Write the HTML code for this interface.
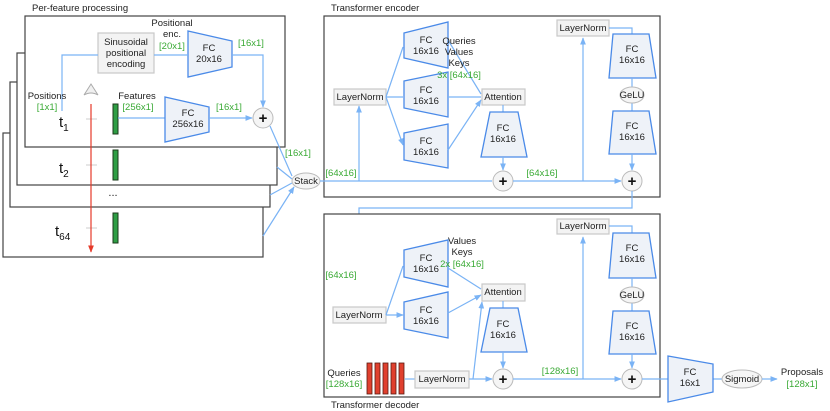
<!DOCTYPE html>
<html><head><style>
body{margin:0;background:#fff;}
svg{display:block;font-family:"Liberation Sans",sans-serif;}
.t{font-size:9.5px;fill:#222;text-anchor:middle;}
.g{font-size:9.5px;fill:#3aaa35;text-anchor:middle;}
.p{font-size:15px;fill:#111;text-anchor:middle;font-weight:bold;}
.l{stroke:#7ab3f5;stroke-width:1.2;fill:none;}
.tr{fill:#eef2f8;stroke:#4a8ae8;stroke-width:1.3;}
.gb{fill:#f3f3f3;stroke:#c8c8c8;stroke-width:1.2;}
.c{fill:#f5f5f5;stroke:#bbb;stroke-width:1;}
.bx{fill:#fff;stroke:#444;stroke-width:1.2;}
</style></head><body>
<svg width="830" height="411" viewBox="0 0 830 411">
<defs><marker id="a" viewBox="0 0 10 10" refX="9" refY="5" markerWidth="6" markerHeight="6" orient="auto"><path d="M0,1L10,5L0,9z" fill="#7ab3f5"/></marker>
<marker id="r" viewBox="0 0 10 10" refX="9" refY="5" markerWidth="6" markerHeight="6" orient="auto"><path d="M0,1L10,5L0,9z" fill="#e53a2a"/></marker></defs>

<!-- left stack -->
<text x="32" y="11" class="t" style="text-anchor:start">Per-feature processing</text>
<rect x="3" y="133" width="260" height="124" class="bx"/>
<rect x="10" y="82" width="260" height="125" class="bx"/>
<rect x="17" y="53" width="260" height="132" class="bx"/>
<rect x="25" y="16" width="260" height="131" class="bx"/>

<rect x="98" y="33" width="56" height="40" class="gb"/>
<text x="126" y="45" class="t">Sinusoidal</text><text x="126" y="56" class="t">positional</text><text x="126" y="67" class="t">encoding</text>
<text x="172" y="26" class="t">Positional</text><text x="172" y="37" class="t">enc.</text><text x="172" y="49" class="g">[20x1]</text>
<polygon points="188,31 232,41 232,67 188,77" class="tr"/>
<text x="209" y="51" class="t">FC</text><text x="209" y="62" class="t">20x16</text>
<text x="251" y="46" class="g">[16x1]</text>
<path d="M62,111V55H98 M154,55H188" class="l"/>
<path d="M232,55H263V107" class="l" marker-end="url(#a)"/>
<circle cx="263" cy="118" r="10" class="c"/><text x="263" y="123" class="p">+</text>
<text x="47" y="99" class="t">Positions</text><text x="47" y="110" class="g">[1x1]</text>
<text x="59" y="127" style="font-size:15px;fill:#111">t<tspan font-size="10" dy="4">1</tspan></text>
<text x="59" y="173" style="font-size:15px;fill:#111">t<tspan font-size="10" dy="4">2</tspan></text>
<text x="55" y="236" style="font-size:15px;fill:#111">t<tspan font-size="10" dy="4">64</tspan></text>
<text x="113" y="196" class="t" style="font-size:11px">...</text>
<path d="M84,95 L91,84 L98,95 Q91,91 84,95z" fill="#f0f0f0" stroke="#aaa"/>
<path d="M86,119H97 M86,165H97 M86,228H97" stroke="#ccc" stroke-width="1"/>
<path d="M91,104V252" stroke="#e53a2a" stroke-width="1.2" marker-end="url(#r)"/>
<rect x="113" y="104" width="5" height="30" fill="#2e9e44" stroke="#1a3a1a"/>
<rect x="113" y="150" width="5" height="30" fill="#2e9e44" stroke="#1a3a1a"/>
<rect x="113" y="213" width="5" height="30" fill="#2e9e44" stroke="#1a3a1a"/>
<text x="137" y="99" class="t">Features</text><text x="138" y="110" class="g">[256x1]</text>
<path d="M118,118H165" class="l"/>
<polygon points="165,97 209,107 209,132 165,142" class="tr"/>
<text x="188" y="116" class="t">FC</text><text x="188" y="127" class="t">256x16</text>
<text x="229" y="110" class="g">[16x1]</text>
<path d="M209,118H252" class="l" marker-end="url(#a)"/>
<text x="298" y="156" class="g">[16x1]</text>
<path d="M270,126L292,176 M277,167L292,179 M270,195L292,183 M263,236L294,187" class="l" marker-end="url(#a)"/>
<ellipse cx="306" cy="181" rx="14" ry="8" class="c"/><text x="306" y="184" class="t">Stack</text>

<!-- encoder -->
<text x="331" y="11" class="t" style="text-anchor:start">Transformer encoder</text>
<rect x="324" y="16" width="336" height="181" class="bx"/>
<rect x="334" y="89" width="52" height="16" class="gb"/><text x="360" y="100" class="t">LayerNorm</text>
<polygon points="404,33 448,22 448,68 404,58" class="tr"/><text x="426" y="43" class="t">FC</text><text x="426" y="54" class="t">16x16</text>
<polygon points="404,81 448,72 448,117 404,108" class="tr"/><text x="426" y="93" class="t">FC</text><text x="426" y="104" class="t">16x16</text>
<polygon points="404,133 448,124 448,168 404,160" class="tr"/><text x="426" y="144" class="t">FC</text><text x="426" y="155" class="t">16x16</text>
<path d="M386,97L403,47 M386,97H403 M386,97L403,145" class="l" marker-end="url(#a)"/>
<path d="M448,40L481,94 M448,97H481 M448,150L481,100" class="l" marker-end="url(#a)"/>
<text x="459" y="44" class="t">Queries</text><text x="459" y="55" class="t">Values</text><text x="459" y="66" class="t">Keys</text><text x="459" y="78" class="g">3x [64x16]</text>
<rect x="482" y="89" width="43" height="16" class="gb"/><text x="503" y="100" class="t">Attention</text>
<path d="M503,105V112" class="l"/>
<polygon points="490,112 518,112 527,157 481,157" class="tr"/><text x="503" y="131" class="t">FC</text><text x="503" y="142" class="t">16x16</text>
<path d="M503,157V170" class="l" marker-end="url(#a)"/>
<circle cx="503" cy="181" r="10" class="c"/><text x="503" y="186" class="p">+</text>
<path d="M320,181H492 M513,181H621" class="l" marker-end="url(#a)"/>
<path d="M359,181V106" class="l" marker-end="url(#a)"/>
<text x="341" y="176" class="g">[64x16]</text><text x="542" y="176" class="g">[64x16]</text>
<path d="M583,181V38" class="l" marker-end="url(#a)"/>
<rect x="557" y="20" width="52" height="16" class="gb"/><text x="583" y="31" class="t">LayerNorm</text>
<path d="M609,28H632V34" class="l"/>
<polygon points="613,34 649,34 656,78 609,78" class="tr"/><text x="632" y="52" class="t">FC</text><text x="632" y="63" class="t">16x16</text>
<path d="M632,78V111" class="l"/>
<ellipse cx="632" cy="95" rx="12" ry="8" class="c"/><text x="632" y="98" class="t">GeLU</text>
<polygon points="613,111 649,111 656,154 609,154" class="tr"/><text x="632" y="129" class="t">FC</text><text x="632" y="140" class="t">16x16</text>
<path d="M632,154V170" class="l" marker-end="url(#a)"/>
<circle cx="632" cy="181" r="10" class="c"/><text x="632" y="186" class="p">+</text>
<path d="M632,191V208H359V307" class="l"/>

<!-- decoder -->
<rect x="324" y="214" width="336" height="183" class="bx"/>
<text x="331" y="408" class="t" style="text-anchor:start">Transformer decoder</text>
<text x="341" y="278" class="g">[64x16]</text>
<rect x="333" y="307" width="53" height="16" class="gb"/><text x="359" y="318" class="t">LayerNorm</text>
<polygon points="404,250 448,240 448,287 404,277" class="tr"/><text x="426" y="261" class="t">FC</text><text x="426" y="272" class="t">16x16</text>
<polygon points="404,302 448,292 448,338 404,329" class="tr"/><text x="426" y="313" class="t">FC</text><text x="426" y="324" class="t">16x16</text>
<path d="M386,315L403,266 M386,315H403" class="l" marker-end="url(#a)"/>
<path d="M448,268L481,289 M448,313L481,295" class="l" marker-end="url(#a)"/>
<text x="462" y="244" class="t">Values</text><text x="462" y="255" class="t">Keys</text><text x="462" y="267" class="g">2x [64x16]</text>
<rect x="482" y="284" width="43" height="17" class="gb"/><text x="503" y="295" class="t">Attention</text>
<path d="M503,301V308" class="l"/>
<polygon points="490,308 518,308 527,352 481,352" class="tr"/><text x="503" y="327" class="t">FC</text><text x="503" y="338" class="t">16x16</text>
<path d="M503,352V368" class="l" marker-end="url(#a)"/>
<circle cx="503" cy="379" r="10" class="c"/><text x="503" y="384" class="p">+</text>
<text x="344" y="376" class="t">Queries</text><text x="344" y="387" class="g">[128x16]</text>
<g fill="#e0402e" stroke="#5a1a10" stroke-width="0.8">
<rect x="367" y="363" width="5" height="31"/><rect x="375" y="363" width="5" height="31"/><rect x="383" y="363" width="5" height="31"/><rect x="391" y="363" width="5" height="31"/><rect x="399" y="363" width="5" height="31"/></g>
<path d="M405,379H415" class="l"/>
<rect x="415" y="371" width="54" height="17" class="gb"/><text x="442" y="382" class="t">LayerNorm</text>
<path d="M469,379H492" class="l" marker-end="url(#a)"/>
<path d="M473,379L482,302" class="l" marker-end="url(#a)"/>
<text x="560" y="374" class="g">[128x16]</text>
<path d="M513,379H621" class="l" marker-end="url(#a)"/>
<path d="M583,379V237" class="l" marker-end="url(#a)"/>
<rect x="557" y="219" width="52" height="15" class="gb"/><text x="583" y="229" class="t">LayerNorm</text>
<path d="M609,226H632V233" class="l"/>
<polygon points="613,233 649,233 656,278 609,278" class="tr"/><text x="632" y="251" class="t">FC</text><text x="632" y="262" class="t">16x16</text>
<path d="M632,278V311" class="l"/>
<ellipse cx="632" cy="295" rx="12" ry="8" class="c"/><text x="632" y="298" class="t">GeLU</text>
<polygon points="613,311 649,311 656,354 609,354" class="tr"/><text x="632" y="329" class="t">FC</text><text x="632" y="340" class="t">16x16</text>
<path d="M632,354V368" class="l" marker-end="url(#a)"/>
<circle cx="632" cy="379" r="10" class="c"/><text x="632" y="384" class="p">+</text>
<path d="M642,379H668 M713,379H722" class="l"/>
<polygon points="668,356 713,364 713,392 668,402" class="tr"/><text x="690" y="375" class="t">FC</text><text x="690" y="386" class="t">16x1</text>
<ellipse cx="742" cy="379" rx="20" ry="9" class="c"/><text x="742" y="382" class="t">Sigmoid</text>
<path d="M762,379H777" class="l" marker-end="url(#a)"/>
<text x="802" y="375" class="t">Proposals</text><text x="802" y="387" class="g">[128x1]</text>
</svg>
</body></html>
